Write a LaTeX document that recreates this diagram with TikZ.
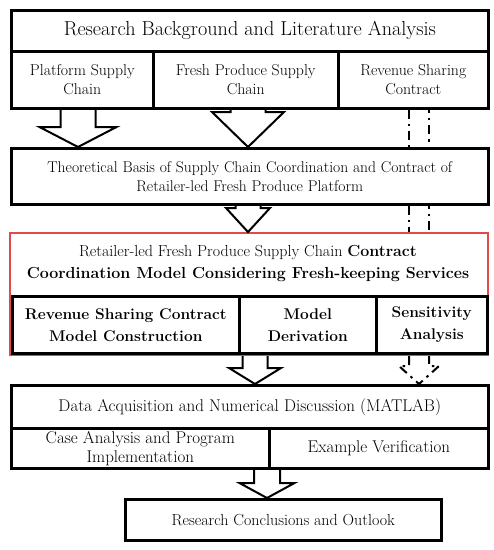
\documentclass[tikz,border=0pt]{standalone}
\usepackage{fontspec}
\usetikzlibrary{calc}
\definecolor{boxred}{HTML}{E04A4A}
\newcommand\blockarr[7][]{%
  \draw[arrline,#1] let \p1=(#2.south), \p2=(#3.north) in
    ({#4pt-#5pt},\y1) -- ({#4pt-#5pt},{\y2+#7pt}) -- ({#4pt-#6pt},{\y2+#7pt})
    -- (#4pt,\y2) -- ({#4pt+#6pt},{\y2+#7pt}) -- ({#4pt+#5pt},{\y2+#7pt}) -- ({#4pt+#5pt},\y1);}
\begin{document}
\begin{tikzpicture}[x=1pt,y=-1pt,
  box/.style={draw=black,line width=2.6pt,anchor=north west,inner sep=0pt,align=center,font=\fontsize{15.8}{19}\selectfont},
  bbox/.style={box,font=\fontsize{15.5}{22}\selectfont\bfseries},
  lowbox/.style={box,font=\fontsize{17}{19}\selectfont},
  arrline/.style={draw=black,line width=2pt,line join=miter},
  dd/.style={line width=2pt,dash pattern=on 9pt off 5pt on 2.5pt off 5pt}]
\useasboundingbox (0,0) rectangle (494,550);
% top block
\node[box,minimum width=477pt,minimum height=41pt,font=\fontsize{20.2}{24}\selectfont] (title) at (10,9) {Research Background and Literature Analysis};
\node[box,minimum width=142pt,minimum height=57pt] (plat) at (10,50) {Platform Supply\\Chain};
\node[box,minimum width=185pt,minimum height=57pt] (fresh) at (152,50) {Fresh Produce Supply\\Chain};
\node[box,minimum width=150pt,minimum height=57pt] (rev) at (337,50) {Revenue Sharing\\Contract};
% theoretical
\node[box,minimum width=477pt,minimum height=56pt,font=\fontsize{15.6}{19}\selectfont] (theo) at (10,147) {Theoretical Basis of Supply Chain Coordination and Contract of\\Retailer-led Fresh Produce Platform};
% red box
\node[draw=boxred,line width=2pt,anchor=north west,inner sep=0pt,minimum width=478pt,minimum height=122pt] (redbox) at (9,232) {};
\node[align=center,inner sep=0pt,font=\fontsize{16}{22}\selectfont] (redhead) at (248,264) {Retailer-led Fresh Produce Supply Chain \textbf{Contract}\\\textbf{Coordination Model Considering Fresh-keeping Services}};
\node[bbox,minimum width=227pt,minimum height=57pt] (rscm) at (11,295) {Revenue Sharing Contract\\Model Construction};
\node[bbox,minimum width=137pt,minimum height=57pt] (deriv) at (238,295) {Model\\Derivation};
\node[bbox,minimum width=111pt,minimum height=57pt] (sens) at (375,295) {Sensitivity\\Analysis};
% data block
\node[lowbox,minimum width=477pt,minimum height=43pt] (data) at (10,384) {Data Acquisition and Numerical Discussion (MATLAB)};
\node[lowbox,minimum width=258pt,minimum height=40pt] (case) at (10,427) {Case Analysis and Program\\Implementation};
\node[lowbox,minimum width=219pt,minimum height=40pt] (exam) at (268,427) {Example Verification};
% conclusions
\node[box,minimum width=316pt,minimum height=41pt,font=\fontsize{16}{19}\selectfont] (concl) at (124,498) {Research Conclusions and Outlook};
% block arrows
\blockarr{plat}{theo}{78}{17.5}{38.5}{20}
\blockarr{fresh}{theo}{248}{17.5}{36}{35}
\blockarr{theo}{redbox}{248}{12.5}{22}{24}
\blockarr{redbox}{data}{255}{12.5}{26}{16}
\blockarr{case}{concl}{267}{13}{27.5}{15}
% dash-dot path
\draw[dd] (rev.south -| 409,0) -- (theo.north -| 409,0);
\draw[dd,dash phase=6pt] (rev.south -| 429,0) -- (theo.north -| 429,0);
\draw[dd] (theo.south -| 409,0) -- (redbox.north -| 409,0);
\draw[dd,dash phase=6pt] (theo.south -| 429,0) -- (redbox.north -| 429,0);
\blockarr[dd]{redbox}{data}{419}{10}{20}{18}
\end{tikzpicture}
\end{document}
